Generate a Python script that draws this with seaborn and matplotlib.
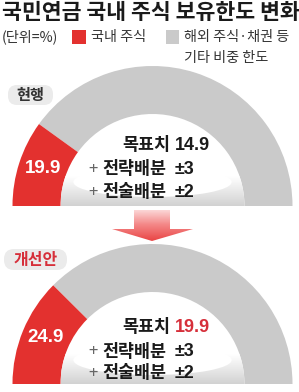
import numpy as np
import matplotlib
matplotlib.use("Agg")
import matplotlib.pyplot as plt
import seaborn as sns
from matplotlib.patches import Wedge, FancyBboxPatch, Rectangle, Polygon, Ellipse

sns.set_theme(style="white")
plt.rcParams['font.family'] = ['Noto Sans CJK KR', 'DejaVu Sans']

# data
panels = ["현행", "개선안"]
domestic_limit = [19.9, 24.9]      # 국내 주식 보유한도 (%)
target = [14.9, 19.9]             # 목표치
strategic = ["±3", "±3"]
tactical = ["±2", "±2"]
legend_labels = ["국내 주식", "해외 주식·채권 등\n기타 비중 한도"]

RED = "#e3312f"
GRAY = "#cacaca"
DARK = "#1a1a1a"

fig = plt.figure(figsize=(2.99, 3.92), dpi=100)
ax = fig.add_axes([0, 0, 1, 1])
ax.set_xlim(0, 299)
ax.set_ylim(392, 0)
ax.axis("off")

# title + legend
ax.text(2, 12, "국민연금 국내 주식 보유한도 변화", fontsize=15.6, fontweight="bold",
        color=DARK, va="center", ha="left")
ax.text(2, 37, "(단위=%)", fontsize=10.2, fontweight="medium", color="#333333", va="center")
ax.add_patch(Rectangle((72, 30), 14, 14, color=RED, lw=0))
ax.text(91, 37, legend_labels[0], fontsize=10.2, fontweight="medium", color="#333333", va="center")
ax.add_patch(Rectangle((166, 30), 13, 14, color=GRAY, lw=0))
line1, line2 = legend_labels[1].split("\n")
ax.text(184, 37, line1, fontsize=10.2, fontweight="medium", color="#333333", va="center")
ax.text(184, 58, line2, fontsize=10.2, fontweight="medium", color="#333333", va="center")

cx = 152.5
bases = [206, 384]
r_out = 140
r_in = 92
shade = matplotlib.colors.LinearSegmentedColormap.from_list("sh", ["#ffffff", "#d2d2d2"])

for i, name in enumerate(panels):
    cy = bases[i]
    # angle scale: 0% at left baseline (180deg), 100% at right baseline (360deg), y inverted
    split = 180 + 180 * domestic_limit[i] / 100
    ax.add_patch(Wedge((cx, cy), r_out, split, 360, width=r_out - r_in, color=GRAY, lw=0))
    ax.add_patch(Wedge((cx, cy), r_out, 180, split, width=r_out - r_in, color=RED, lw=0))

    # soft shadow at the inner bottom
    clip = Wedge((cx, cy), r_in, 180, 360, color="none", lw=0)
    ax.add_patch(clip)
    grad = np.linspace(0, 1, 60).reshape(-1, 1)
    im = ax.imshow(grad, cmap=shade, extent=(cx - r_in, cx + r_in, cy, cy - 30),
                   aspect="auto", zorder=1)
    im.set_clip_path(clip)
    ax.add_patch(Ellipse((cx, cy - 24), 2 * r_in * 0.86, 30, color="white", lw=0, zorder=1.5,
                         clip_path=clip))

    # big value inside red arc
    ax.text(43 if i == 0 else 46, cy - 38 if i == 0 else cy - 46,
            f"{domestic_limit[i]}", color="white", fontsize=13.5, fontweight="bold",
            ha="center", va="center", family=["Liberation Sans", "DejaVu Sans"], zorder=3)

    # text block
    ys = [cy - 61, cy - 37, cy - 14] if i == 0 else [cy - 57, cy - 32, cy - 11]
    ax.text(170, ys[0], "목표치", fontsize=12.5, fontweight="bold", color=DARK,
            ha="right", va="center", zorder=3)
    ax.text(175, ys[0], f"{target[i]}", fontsize=13, fontweight="bold",
            color=DARK if i == 0 else "#d62f3a", ha="left", va="center",
            family=["Liberation Sans", "DejaVu Sans"], zorder=3)
    for y, lab, val in [(ys[1], "전략배분", strategic[i]), (ys[2], "전술배분", tactical[i])]:
        ax.text(88, y, "+", fontsize=12, color="#666666", ha="left", va="center", zorder=3)
        ax.text(166, y, lab, fontsize=12.5, fontweight="bold", color=DARK,
                ha="right", va="center", zorder=3)
        ax.text(175, y, val, fontsize=13, fontweight="bold", color=DARK,
                ha="left", va="center", family=["Liberation Sans", "DejaVu Sans"], zorder=3)

# panel tags
ax.add_patch(FancyBboxPatch((8, 85), 45, 20, boxstyle="round,pad=0,rounding_size=9",
                            color="#ebebeb", lw=0))
ax.text(30.5, 95, panels[0], fontsize=11, fontweight="bold", color="#333333",
        ha="center", va="center")
ax.add_patch(FancyBboxPatch((4, 249), 63, 21, boxstyle="round,pad=0,rounding_size=10",
                            color="#ebebeb", lw=0))
ax.text(35.5, 259.5, panels[1], fontsize=11.5, fontweight="bold", color="#d62f3a",
        ha="center", va="center")

# arrow with gradient (light at top, stronger red at the tip)
arrow = Polygon([(134, 210), (170, 210), (170, 229), (193, 229), (152, 241), (112, 229),
                 (134, 229)], closed=True, color="none", lw=0)
ax.add_patch(arrow)
g = np.linspace(0, 1, 50).reshape(-1, 1)
aim = ax.imshow(g, cmap=matplotlib.colors.LinearSegmentedColormap.from_list(
    "ar", ["#fde6e6", "#f48a8a", "#e94646"]), extent=(110, 195, 241, 207), aspect="auto",
    zorder=2)
aim.set_clip_path(arrow)
ax.set_xlim(0, 299)
ax.set_ylim(392, 0)

fig.savefig("out.png", dpi=100)
